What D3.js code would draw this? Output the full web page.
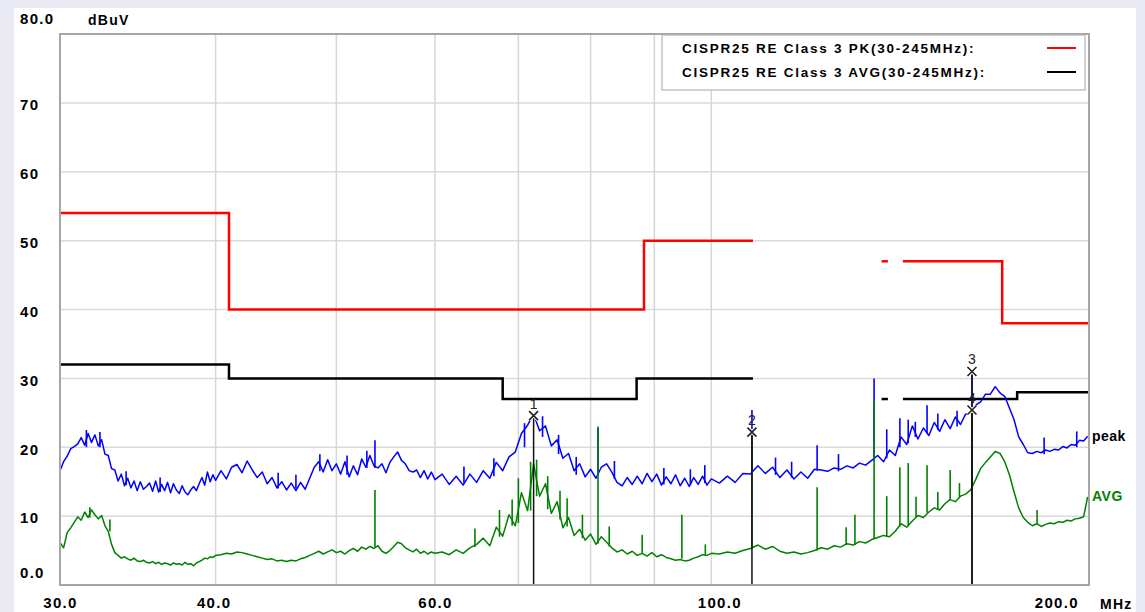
<!DOCTYPE html>
<html>
<head>
<meta charset="utf-8">
<script src="https://cdn.jsdelivr.net/npm/d3@7"></script>
<style>
  body { margin: 0; background: #fff; }
  svg text { font-family: "Liberation Sans", Arial, sans-serif; }
</style>
</head>
<body>
<svg id="chart" width="1145" height="612"></svg>
<script>
// sweep frequencies (MHz) shared by both traces
var freqMHz = [
  30.0,30.2,30.4,30.6,30.8,31.0,31.2,31.4,31.6,31.8,
  32.0,32.2,32.4,32.6,32.8,33.0,33.2,33.4,33.6,33.8,
  34.0,34.2,34.4,34.6,34.8,35.0,35.2,35.4,35.6,35.8,
  36.0,36.2,36.4,36.6,36.8,37.0,37.2,37.4,37.6,37.8,
  38.0,38.2,38.4,38.6,38.8,39.0,39.2,39.4,39.6,39.8,
  40.0,
  40.4,40.8,41.2,41.6,42.0,42.4,42.8,43.2,43.6,44.0,
  44.4,44.8,45.2,45.6,46.0,46.4,46.8,47.2,47.6,48.0,
  48.4,48.8,49.2,49.6,50.0,50.4,50.8,51.2,51.6,52.0,
  52.4,52.8,53.2,53.6,54.0,54.4,54.8,55.2,55.6,56.0,
  56.4,56.8,57.2,57.6,58.0,58.4,58.8,59.2,59.6,60.0,
  60.8,61.6,62.4,63.2,64.0,64.8,65.6,66.4,67.2,68.0,
  68.8,69.6,70.4,71.2,72.0,72.8,73.6,74.4,75.2,76.0,
  76.8,77.6,78.4,79.2,80.0,80.8,81.6,82.4,83.2,84.0,
  84.8,85.6,86.4,87.2,88.0,88.8,89.6,90.4,91.2,92.0,
  92.8,93.6,94.4,95.2,96.0,96.8,97.6,98.4,99.2,100.0,
  101.5,103,104.5,106,107.5,109,110.5,112,113.5,115,
  116.5,118,119.5,121,122.5,124,125.5,127,128.5,130,
  131.5,133,134.5,136,137.5,139,140.5,142,143.5,145,
  146.5,148,149.5,151,152.5,154,155.5,157,158.5,160,
  161.5,163,164.5,166,167.5,169,170.5,172,173.5,175,
  176.5,178,179.5,181,182.5,184,185.5,187,188.5,190,
  191.5,193,194.5,196,197.5,199,200.5
];

// peak detector trace (dBuV)
var peakDb = [
  16.6,17.9,18.7,19.8,20.1,20.5,21.4,20.3,22.0,20.7,
  21.8,20.2,21.1,19.0,18.8,16.9,16.7,15.1,16.1,14.4,
  15.5,14.1,15.1,13.7,15.0,13.9,14.3,14.8,13.6,15.1,
  13.5,14.6,13.7,14.9,13.4,14.7,13.8,13.3,14.4,13.5,
  13.1,13.8,14.3,13.7,14.7,15.6,14.5,16.4,15.0,16.0,
  15.2,
  16.6,15.4,17.1,17.5,16.3,18.0,16.7,15.6,16.4,14.7,
  15.6,14.1,15.0,13.8,14.8,13.7,14.9,13.9,15.5,17.1,
  17.9,16.4,18.2,16.6,17.6,16.1,17.9,15.7,17.3,16.0,
  18.3,17.1,18.8,17.3,17.0,17.6,16.3,17.8,18.6,19.3,
  18.1,17.6,16.6,16.4,16.7,15.6,16.6,15.4,16.4,15.3,
  16.1,14.6,15.8,14.5,16.1,14.9,16.6,15.5,17.8,16.6,
  18.6,19.3,22.0,23.2,24.8,22.4,23.1,20.2,21.1,18.4,
  19.1,16.6,17.6,15.7,16.8,15.5,17.1,17.6,16.4,14.9,
  14.4,15.6,14.6,15.8,14.7,16.2,15.0,16.1,14.5,15.7,
  14.7,16.0,14.4,15.5,14.3,15.6,14.6,15.8,14.5,15.4,
  14.8,15.8,14.9,16.2,16.1,17.3,16.2,17.1,15.6,16.7,
  15.4,16.4,15.5,16.8,16.7,16.5,17.0,16.8,17.3,17.0,
  17.7,17.4,18.1,18.8,17.9,19.6,18.8,21.5,20.4,23.1,
  21.2,22.8,21.7,23.6,22.3,24.0,22.7,24.4,23.3,24.8,
  25.0,26.1,26.6,27.7,27.7,28.8,27.9,27.4,25.7,24.0,
  21.5,20.4,19.2,19.1,19.4,19.2,19.6,19.4,19.7,19.6,
  20.1,19.9,20.4,20.3,21.0,20.9,21.6
];

// average detector trace (dBuV)
var avgDb = [
  6.2,5.4,7.6,8.3,9.1,9.9,9.4,10.6,9.8,10.9,
  10.2,9.6,10.1,8.6,7.8,5.9,4.7,4.3,3.9,4.1,
  3.8,3.6,3.9,3.5,3.4,3.6,3.3,3.2,3.4,3.1,
  3.3,3.0,3.2,3.1,2.9,3.2,3.0,3.1,2.9,3.3,
  3.0,3.1,2.8,3.2,3.4,3.6,3.9,3.8,4.1,4.0,
  4.3,
  4.4,4.6,4.5,4.8,4.7,4.5,4.3,4.1,3.9,3.7,
  3.8,3.5,3.6,3.4,3.6,3.5,3.8,4.0,4.3,4.6,
  4.9,4.5,4.8,5.1,4.7,4.9,4.5,5.0,5.3,4.9,
  5.5,5.2,5.6,5.3,5.7,4.9,4.6,5.0,5.6,6.2,
  6.0,5.4,5.1,4.8,5.2,4.6,4.9,4.5,4.8,4.6,
  4.8,4.4,5.1,4.6,5.4,5.9,6.8,5.7,8.4,7.1,
  10.2,8.6,13.4,10.8,17.6,12.9,14.7,10.4,12.1,8.3,
  9.8,7.2,8.1,6.5,7.4,5.9,7.0,6.2,5.4,4.8,
  5.1,4.5,4.9,4.3,4.6,4.2,4.7,4.1,4.4,4.0,
  3.8,3.6,3.7,3.5,3.6,3.9,4.1,4.4,4.3,4.6,
  4.5,4.8,4.6,5.0,5.3,5.8,5.2,5.6,4.9,4.6,
  4.8,4.5,4.7,5.0,5.4,5.2,5.7,5.5,6.0,5.8,
  6.3,6.1,6.6,6.9,7.2,7.0,7.8,8.9,8.4,9.3,
  10.1,9.8,10.6,11.2,10.9,11.8,12.4,12.1,12.9,13.2,
  13.8,15.3,16.9,17.8,18.6,19.4,19.1,17.9,16.0,13.5,
  11.2,9.8,9.1,8.6,8.9,8.5,8.8,9.0,8.9,9.2,
  9.1,9.4,9.3,9.6,9.7,9.9,12.8
];

// narrow spurs and noise strokes: [MHz, floor dBuV, top dBuV]
var peakSpikes = [[53.7,17,21],[81.1,16,22.8],[107.8,16.3,25.4],[121.6,16.6,20.3],
  [135.1,18,30],[141.7,20,24.2],[143.9,20.6,24.0],[149,22,26.1],[161.9,25,31.2],
  [31.5,20,22.5],[32.3,20,22.2],[33.9,14.5,16.5],[36.1,13.5,15.6],[44.9,14,16.3],
  [46.4,14,16],[48.5,16.5,19],[51.0,16,18.8],[52.9,17,19.5],[63.3,14.8,17.2],
  [66.9,15.8,18.4],[70.8,20,23.5],[73.2,21.5,24.5],[75.4,19,21.8],[77.9,16,18.6],
  [83.6,15.4,18],[91.6,14.6,17],[96.2,14.5,16.8],[98.8,14.8,17.4],[112.6,16,18.5],
  [116,15.6,17.9],[126.5,16.5,19],[138.3,18.4,22.6],[145.8,21.5,23.7],[152,22.5,24.9],
  [157.5,23,25.3],[185,19,21.4],[196.5,20,22.3]];
var avgSpikes = [[53.7,5.5,13.8],[81.1,6,23],[88,4.5,7.3],[94.7,3.8,10.2],[107.8,5.3,21.8],
  [121.6,5.0,14.2],[130.4,5.8,10.2],[135.1,6.8,26.8],[141.7,8.5,17.1],[143.9,8.6,17.7],
  [149,10.5,17.4],[155.5,12.4,16.7],[161.9,13.8,25.3],[182.6,8.9,10.9],
  [31.7,9.8,11.3],[32.9,7.8,9.5],[64.6,5.5,8.2],[67.6,7,10.9],[69.2,8.6,12.4],
  [70.0,9,15.5],[71.6,10.8,17.9],[72.4,12.9,18.2],[73.9,11,15.8],[75.6,9.5,13.7],
  [76.6,8.5,12.6],[78.8,6.8,10.2],[82.8,5.6,8.5],[98.9,4.3,5.9],[128.3,5.8,8.4],
  [138.3,7.1,12.9],[146,9.8,12.8],[152,11,13.5],[158.2,12.7,14.8]];

// CISPR 25 class 3 limit segments, [MHz, dBuV], step after each point
var pkLimitA = [[30,54],[41,40],[88.3,50],[108,50]];
var pkLimitB = [[137,47],[138.6,47]];
var pkLimitC = [[142.5,47],[171.2,38],[201,38]];
var avgLimitA = [[30,32],[41,30],[68,27],[87.1,30],[108,30]];
var avgLimitB = [[137,27],[138.6,27]];
var avgLimitC = [[142.5,27],[176,28],[201,28]];

var markerFreq = [72.0, 107.8, 161.9, 161.9];
var markerDb = [24.6, 22.2, 31.0, 25.4];
var markerLabel = ["1", "2", "3", "4"];

var xTicks = [30, 40, 60, 100, 200];
var xGrid = [40, 50, 60, 70, 80, 90, 100];
var yTicks = [0, 10, 20, 30, 40, 50, 60, 70, 80];
var legendLabels = ["CISPR25 RE Class 3 PK(30-245MHz):", "CISPR25 RE Class 3 AVG(30-245MHz):"];
var legendColors = ["#ff0000", "#000000"];

var plotLeft = 60, plotTop = 34, plotRight = 1089, plotBottom = 585;
var svg = d3.select("#chart");

var x = d3.scaleLog().domain([30, 201]).range([plotLeft, plotRight]);
var y = d3.scaleLinear().domain([0, 80]).range([plotBottom, plotTop]);

function labelStyle(sel, size) {
  sel.attr("fill", "#000").style("font-size", size + "px")
    .style("font-weight", "bold").style("letter-spacing", "1.3px");
}

// page background
svg.append("rect").attr("width", 1145).attr("height", 612).attr("fill", "#e9e9f3");
svg.append("rect").attr("x", 14).attr("y", 8).attr("width", 1122).attr("height", 604).attr("fill", "#fff");

var g = svg.append("g");

g.selectAll(".hgrid").data(yTicks.filter(function (d) { return d > 0 && d < 80; }))
  .enter().append("line")
  .attr("x1", plotLeft).attr("x2", plotRight)
  .attr("y1", function (d) { return y(d); }).attr("y2", function (d) { return y(d); })
  .attr("stroke", "#dadada").attr("stroke-width", 1.5);

g.selectAll(".vgrid").data(xGrid)
  .enter().append("line")
  .attr("x1", function (d) { return x(d); }).attr("x2", function (d) { return x(d); })
  .attr("y1", plotTop).attr("y2", plotBottom)
  .attr("stroke", "#d6d6d6").attr("stroke-width", 1.5);

// axes
var xAxis = g.append("g")
  .attr("transform", "translate(0," + plotBottom + ")")
  .call(d3.axisBottom(x).tickValues(xTicks).tickSize(0).tickFormat(function (d) { return d.toFixed(1); }));
xAxis.select(".domain").remove();
xAxis.selectAll("text")
  .attr("y", 12)
  .attr("dx", function (d) { return d === 40 ? -2 : d === 100 ? 8 : d === 200 ? -30 : 0; })
  .call(labelStyle, 15);

var yAxis = g.append("g")
  .call(d3.axisLeft(y).tickValues(yTicks).tickSize(0).tickFormat(function (d) {
    return (d === 0 || d === 80) ? d.toFixed(1) : d;
  }));
yAxis.select(".domain").remove();
yAxis.selectAll("text")
  .attr("x", 20).attr("text-anchor", "start")
  .attr("dy", function (d) { return d === 0 ? "-0.5em" : d === 80 ? "-0.72em" : "0.45em"; })
  .call(labelStyle, 15);

svg.append("text").attr("x", 88).attr("y", 25).text("dBuV").call(labelStyle, 14);
svg.append("text").attr("x", 1100).attr("y", 609).text("MHz").call(labelStyle, 14);

// limit lines
var stepLine = d3.line()
  .x(function (d) { return x(d[0]); })
  .y(function (d) { return y(d[1]); })
  .curve(d3.curveStepAfter);

[pkLimitA, pkLimitB, pkLimitC].forEach(function (seg) {
  g.append("path").attr("d", stepLine(seg)).attr("fill", "none")
    .attr("stroke", "#ff0000").attr("stroke-width", 2.5);
});
[avgLimitA, avgLimitB, avgLimitC].forEach(function (seg) {
  g.append("path").attr("d", stepLine(seg)).attr("fill", "none")
    .attr("stroke", "#000").attr("stroke-width", 2.5);
});

// traces
function drawTrace(values, spikes, color) {
  var pts = freqMHz.map(function (f, i) { return [f, values[i]]; });
  var line = d3.line()
    .x(function (d) { return x(d[0]); })
    .y(function (d) { return y(d[1]); });
  g.append("path").attr("d", line(pts)).attr("fill", "none")
    .attr("stroke", color).attr("stroke-width", 1.5).attr("stroke-linejoin", "round");
  g.selectAll(null).data(spikes).enter().append("line")
    .attr("x1", function (d) { return x(d[0]); }).attr("x2", function (d) { return x(d[0]); })
    .attr("y1", function (d) { return y(d[1]); }).attr("y2", function (d) { return y(d[2]); })
    .attr("stroke", color).attr("stroke-width", 1.6);
}
drawTrace(peakDb, peakSpikes, "#0000ff");
drawTrace(avgDb, avgSpikes, "#008000");

// markers
markerFreq.forEach(function (f, i) {
  var mx = x(f), my = y(markerDb[i]);
  g.append("line").attr("x1", mx).attr("x2", mx).attr("y1", my).attr("y2", plotBottom)
    .attr("stroke", "#111").attr("stroke-width", 1.5);
  var cross = "M" + (mx - 4.5) + "," + (my - 4.5) + "L" + (mx + 4.5) + "," + (my + 4.5) +
    "M" + (mx + 4.5) + "," + (my - 4.5) + "L" + (mx - 4.5) + "," + (my + 4.5);
  g.append("path").attr("d", cross).attr("stroke", "#fff").attr("stroke-width", 3.5);
  g.append("path").attr("d", cross).attr("stroke", "#222").attr("stroke-width", 1.6);
  g.append("text").attr("x", mx).attr("y", my - 7).attr("text-anchor", "middle")
    .text(markerLabel[i]).attr("fill", "#222").style("font-size", "14px");
});

// frame
g.append("rect").attr("x", plotLeft).attr("y", plotTop)
  .attr("width", plotRight - plotLeft).attr("height", plotBottom - plotTop)
  .attr("fill", "none").attr("stroke", "#a6a6a6").attr("stroke-width", 2);

// legend
var legend = g.append("g");
legend.append("rect").attr("x", 662).attr("y", plotTop + 1).attr("width", 423).attr("height", 55)
  .attr("fill", "#fff").attr("stroke", "#b4b4b4").attr("stroke-width", 1.2);
legendLabels.forEach(function (label, i) {
  legend.append("text").attr("x", 682).attr("y", 53 + i * 24).text(label)
    .call(labelStyle, 13.5).style("letter-spacing", "1.75px");
  legend.append("line").attr("x1", 1047).attr("x2", 1076).attr("y1", 48 + i * 24).attr("y2", 48 + i * 24)
    .attr("stroke", legendColors[i]).attr("stroke-width", 2);
});

// trace names at the right edge
svg.append("text").attr("x", 1092).attr("y", y(peakDb[peakDb.length - 1]) + 5).text("peak")
  .call(labelStyle, 14).style("letter-spacing", "0.5px");
svg.append("text").attr("x", 1092).attr("y", 501).text("AVG")
  .call(labelStyle, 14).attr("fill", "#008000").style("letter-spacing", "0.5px");
</script>
</body>
</html>
